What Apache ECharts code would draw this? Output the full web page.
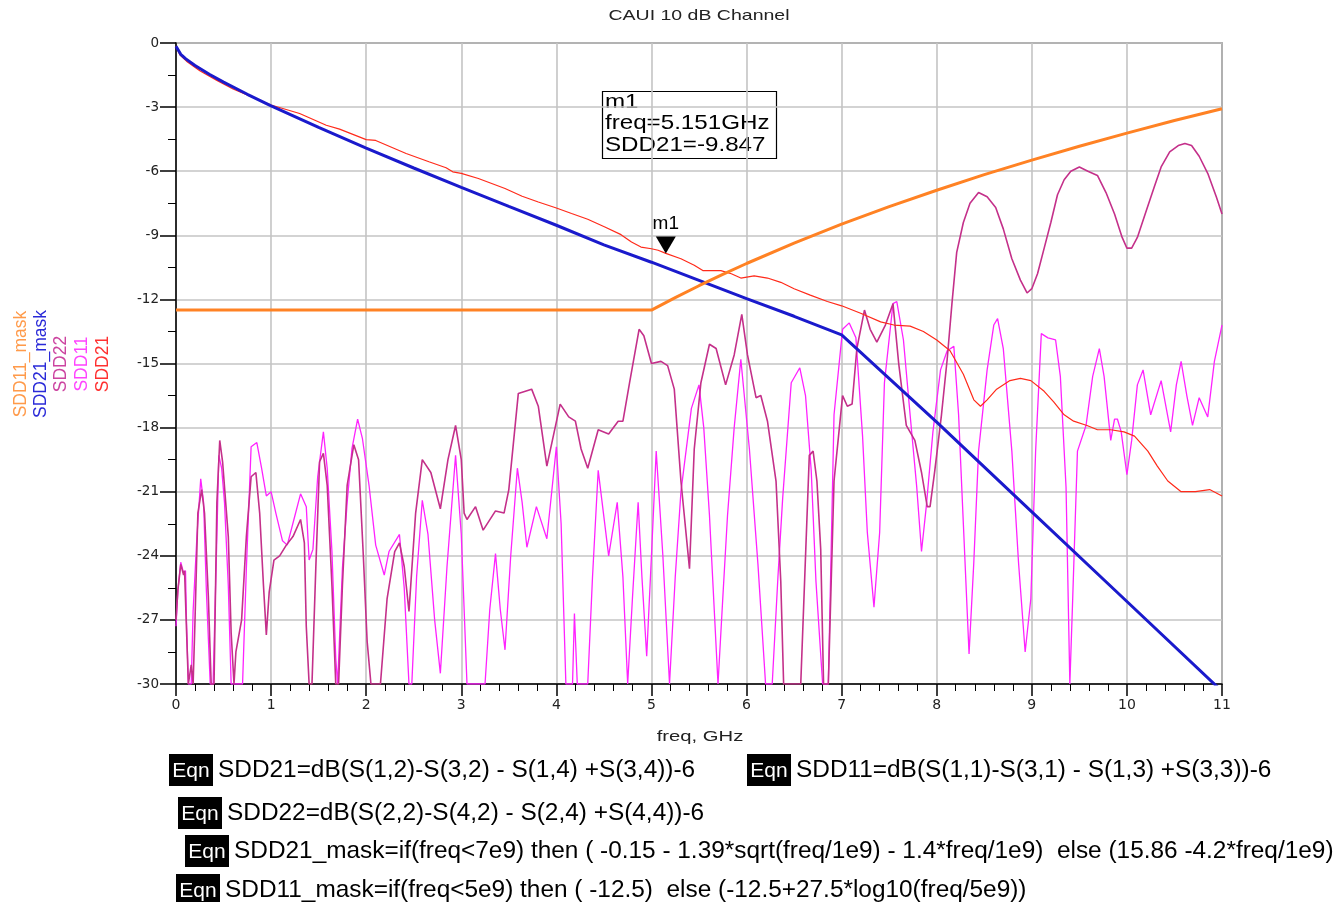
<!DOCTYPE html>
<html>
<head>
<meta charset="utf-8">
<title>CAUI 10 dB Channel</title>
<script src="https://cdn.jsdelivr.net/npm/echarts@6/dist/echarts.min.js"></script>
<style>
  html, body { margin: 0; padding: 0; background: #fff; }
  #chart { width: 1337px; height: 902px; }
</style>
</head>
<body>
<div id="chart"></div>
<script>
// Frequency axis (GHz) and magnitude axis (dB)
const xTicks = { min: 0, max: 11, step: 1 };
const yTicks = { min: -30, max: 0, step: 3 };

// SDD21 insertion loss [freq GHz, dB]
const sdd21 = [
  [0, -0.15], [0.04, -0.55], [0.11, -0.85], [0.25, -1.3], [0.43, -1.75], [0.6, -2.15],
  [0.81, -2.55], [1.0, -2.9], [1.3, -3.3], [1.58, -3.85], [1.72, -4.03], [2.0, -4.52],
  [2.1, -4.56], [2.42, -5.17], [2.66, -5.56], [2.84, -5.84], [2.91, -6.03], [3.0, -6.1],
  [3.18, -6.34], [3.46, -6.81], [3.64, -7.17], [3.81, -7.44], [4.0, -7.72], [4.16, -7.98],
  [4.33, -8.25], [4.51, -8.61], [4.68, -8.97], [4.79, -9.31], [4.89, -9.55], [5.0, -9.63],
  [5.07, -9.7], [5.151, -9.847], [5.31, -10.1], [5.45, -10.4], [5.54, -10.65], [5.73, -10.65],
  [5.84, -10.8], [5.94, -11.0], [6.08, -10.9], [6.22, -11.0], [6.36, -11.2], [6.5, -11.5],
  [6.67, -11.8], [6.85, -12.1], [7.0, -12.3], [7.2, -12.65], [7.41, -13.05], [7.55, -13.2],
  [7.72, -13.25], [7.86, -13.5], [8.0, -13.9], [8.14, -14.4], [8.28, -15.5], [8.39, -16.7],
  [8.46, -17.0], [8.53, -16.7], [8.63, -16.2], [8.77, -15.8], [8.88, -15.7], [8.99, -15.8],
  [9.13, -16.3], [9.23, -16.8], [9.34, -17.4], [9.44, -17.7], [9.58, -17.9], [9.69, -18.1],
  [9.83, -18.1], [9.97, -18.2], [10.08, -18.4], [10.22, -19.1], [10.32, -19.8], [10.43, -20.5],
  [10.57, -21.0], [10.72, -21.0], [10.87, -20.9], [11.0, -21.2]
];

// SDD11 return loss [freq GHz, dB]
const sdd11 = [
  [0, -27.3], [0.02, -25.6], [0.05, -24.3], [0.08, -24.8], [0.10, -24.7], [0.11, -27.0],
  [0.13, -30], [0.16, -30], [0.18, -26.6], [0.22, -23.1], [0.26, -20.4], [0.29, -21.5],
  [0.32, -25.7], [0.36, -30], [0.39, -30], [0.43, -23.1], [0.45, -19.3], [0.48, -19.9],
  [0.51, -21.5], [0.55, -25.4], [0.58, -30], [0.70, -30], [0.74, -24.6], [0.79, -18.9],
  [0.85, -18.7], [0.90, -19.9], [0.95, -21.2], [1.00, -21.0], [1.05, -22.0], [1.12, -23.3],
  [1.17, -23.5], [1.24, -22.3], [1.31, -21.1], [1.37, -21.7], [1.40, -24.2], [1.44, -23.7],
  [1.49, -20.3], [1.55, -18.2], [1.59, -19.9], [1.64, -23.8], [1.68, -28.8], [1.70, -30],
  [1.72, -30], [1.75, -24.6], [1.80, -21.5], [1.85, -19.0], [1.91, -17.6], [1.96, -18.5],
  [2.03, -20.7], [2.10, -23.5], [2.19, -24.9], [2.24, -23.8], [2.35, -23.0], [2.40, -25.5],
  [2.45, -30], [2.48, -30], [2.53, -25.0], [2.59, -21.4], [2.65, -23.0], [2.72, -27.0],
  [2.78, -29.5], [2.85, -24.5], [2.94, -19.3], [3.00, -23.0], [3.06, -30], [3.25, -30],
  [3.30, -26.5], [3.36, -23.9], [3.41, -26.5], [3.46, -28.4], [3.52, -24.0], [3.59, -19.9],
  [3.64, -21.5], [3.69, -23.6], [3.79, -21.7], [3.90, -23.2], [4.00, -18.9], [4.05, -22.5],
  [4.10, -30], [4.17, -30], [4.19, -26.7], [4.22, -30], [4.33, -30], [4.38, -25.0],
  [4.44, -20.0], [4.55, -24.0], [4.64, -21.5], [4.70, -25.0], [4.75, -30], [4.80, -26.0],
  [4.86, -21.5], [4.90, -25.0], [4.95, -28.7], [5.00, -24.0], [5.05, -19.1], [5.12, -24.0],
  [5.19, -30], [5.25, -25.0], [5.31, -21.0], [5.42, -17.1], [5.50, -16.0], [5.55, -18.0],
  [5.61, -22.1], [5.70, -30], [5.75, -26.0], [5.80, -22.1], [5.87, -18.0], [5.94, -14.8],
  [6.03, -19.0], [6.12, -24.4], [6.20, -30], [6.27, -30], [6.33, -25.0], [6.38, -21.3],
  [6.47, -15.9], [6.56, -15.2], [6.62, -16.5], [6.68, -20.0], [6.73, -25.2], [6.80, -30],
  [6.86, -30], [6.92, -17.4], [7.01, -13.4], [7.08, -13.1], [7.15, -13.8], [7.22, -18.4],
  [7.27, -22.9], [7.34, -26.4], [7.40, -22.9], [7.45, -15.9], [7.54, -12.2], [7.58, -12.1],
  [7.65, -13.9], [7.72, -17.4], [7.79, -20.8], [7.84, -23.8], [7.89, -21.7], [7.96, -18.2],
  [8.04, -15.3], [8.11, -14.4], [8.18, -14.2], [8.23, -17.4], [8.28, -22.5], [8.34, -28.6],
  [8.39, -24.3], [8.44, -19.1], [8.53, -15.3], [8.60, -13.2], [8.64, -12.9], [8.70, -14.3],
  [8.79, -19.1], [8.86, -24.3], [8.93, -28.5], [8.99, -26.0], [9.04, -19.1], [9.10, -13.6],
  [9.17, -13.8], [9.25, -13.9], [9.30, -15.6], [9.36, -20.8], [9.40, -30], [9.43, -26.0],
  [9.48, -19.1], [9.57, -17.9], [9.64, -15.6], [9.71, -14.3], [9.76, -15.6], [9.83, -18.6],
  [9.87, -17.6], [9.90, -17.6], [9.94, -18.2], [10.00, -20.2], [10.05, -18.6], [10.11, -16.0],
  [10.17, -15.3], [10.25, -17.4], [10.36, -15.8], [10.46, -18.2], [10.52, -16.0], [10.57, -14.9],
  [10.63, -16.5], [10.69, -17.9], [10.76, -16.6], [10.85, -17.5], [10.92, -14.9], [11.0, -13.2]
];

// SDD22 return loss [freq GHz, dB]
const sdd22 = [
  [0, -27.0], [0.02, -25.6], [0.05, -24.4], [0.08, -24.9], [0.09, -24.7], [0.11, -27.4],
  [0.13, -30], [0.15, -30], [0.16, -29.1], [0.18, -30], [0.20, -27.0], [0.23, -22.0],
  [0.27, -20.9], [0.30, -22.0], [0.34, -25.9], [0.37, -30], [0.40, -30], [0.43, -21.5],
  [0.46, -18.6], [0.49, -19.6], [0.55, -23.1], [0.58, -27.6], [0.61, -30], [0.63, -28.5],
  [0.69, -27.0], [0.74, -23.1], [0.79, -20.3], [0.84, -20.1], [0.88, -22.0], [0.92, -25.4],
  [0.95, -27.7], [0.98, -25.7], [1.03, -24.2], [1.09, -24.0], [1.16, -23.5], [1.23, -23.1],
  [1.31, -22.3], [1.35, -23.4], [1.37, -27.3], [1.40, -30], [1.43, -30], [1.47, -24.6],
  [1.51, -19.6], [1.55, -19.2], [1.59, -20.7], [1.64, -25.4], [1.68, -30], [1.71, -30],
  [1.75, -25.4], [1.80, -20.7], [1.87, -18.8], [1.92, -19.5], [1.97, -24.0], [2.01, -28.0],
  [2.05, -30], [2.15, -30], [2.22, -26.0], [2.30, -23.8], [2.35, -23.4], [2.40, -24.5],
  [2.45, -26.6], [2.52, -22.0], [2.59, -19.5], [2.68, -20.1], [2.78, -21.8], [2.86, -19.5],
  [2.94, -17.9], [3.00, -19.5], [3.03, -22.0], [3.06, -22.3], [3.15, -21.7], [3.23, -22.8],
  [3.36, -21.9], [3.45, -22.0], [3.50, -20.9], [3.60, -16.4], [3.74, -16.2], [3.81, -17.0],
  [3.90, -19.8], [4.04, -16.9], [4.13, -17.5], [4.20, -17.7], [4.26, -19.0], [4.33, -19.9],
  [4.44, -18.1], [4.55, -18.3], [4.65, -17.7], [4.70, -17.7], [4.77, -15.9], [4.87, -13.4],
  [4.92, -13.7], [5.00, -15.0], [5.10, -14.9], [5.17, -15.1], [5.24, -16.2], [5.31, -20.5],
  [5.40, -24.6], [5.45, -19.0], [5.52, -15.9], [5.61, -14.1], [5.68, -14.3], [5.78, -16.0],
  [5.87, -14.6], [5.95, -12.7], [6.01, -14.6], [6.10, -16.6], [6.15, -16.5], [6.22, -17.7],
  [6.31, -20.5], [6.36, -25.2], [6.39, -30], [6.57, -30], [6.66, -19.3], [6.70, -19.1],
  [6.74, -20.5], [6.78, -23.7], [6.81, -30], [6.86, -30], [6.92, -20.5], [7.01, -16.5],
  [7.06, -17.0], [7.11, -16.9], [7.16, -14.3], [7.24, -12.5], [7.30, -13.4], [7.37, -14.0],
  [7.46, -13.2], [7.54, -12.2], [7.60, -15.0], [7.68, -17.9], [7.77, -18.6], [7.84, -20.1],
  [7.90, -21.7], [7.93, -21.7], [7.98, -20.0], [8.05, -17.4], [8.11, -14.8], [8.16, -12.2],
  [8.21, -9.8], [8.28, -8.4], [8.35, -7.5], [8.44, -7.0], [8.53, -7.2], [8.62, -7.7],
  [8.70, -8.7], [8.79, -10.1], [8.88, -11.1], [8.95, -11.7], [9.00, -11.5], [9.06, -10.8],
  [9.13, -9.6], [9.20, -8.4], [9.27, -7.1], [9.34, -6.4], [9.41, -6.0], [9.50, -5.8],
  [9.59, -6.0], [9.69, -6.2], [9.78, -7.0], [9.87, -8.0], [9.95, -9.1], [10.00, -9.6],
  [10.05, -9.6], [10.11, -9.1], [10.20, -7.9], [10.29, -6.7], [10.36, -5.8], [10.45, -5.1],
  [10.54, -4.8], [10.61, -4.7], [10.68, -4.8], [10.76, -5.3], [10.85, -6.1], [10.94, -7.2],
  [11.0, -8.0]
];

// SDD21 limit line [freq GHz, dB]
const sdd21Mask = [
  [0, -0.15], [0.05, -0.53], [0.1, -0.73], [0.2, -1.05], [0.35, -1.46], [0.5, -1.83],
  [0.75, -2.40], [1, -2.94], [1.5, -3.95], [2, -4.92], [2.5, -5.85], [3, -6.76],
  [3.5, -7.65], [4, -8.53], [4.5, -9.45], [5, -10.26], [5.5, -11.11], [6, -11.96],
  [6.5, -12.79], [7, -13.66], [8, -17.74], [9, -21.94], [10, -26.14], [11, -30.34]
];

// SDD11 limit line [freq GHz, dB]
const sdd11Mask = [
  [0, -12.5], [5, -12.5], [5.25, -11.92], [5.5, -11.36], [5.75, -10.83], [6, -10.32],
  [6.5, -9.37], [7, -8.48], [7.5, -7.66], [8, -6.89], [8.5, -6.16], [9, -5.48],
  [9.5, -4.83], [10, -4.22], [10.5, -3.63], [11, -3.08]
];

// Marker m1 on SDD21
const markerFreq = 5.151;
const markerValue = -9.847;

// Trace names (vertical legend on the left) and equation lines below the plot
const traceNames = ['SDD11_mask', 'SDD21_mask', 'SDD22', 'SDD11', 'SDD21'];
const equations = [
  'SDD21=dB(S(1,2)-S(3,2) - S(1,4) +S(3,4))-6',
  'SDD11=dB(S(1,1)-S(3,1) - S(1,3) +S(3,3))-6',
  'SDD22=dB(S(2,2)-S(4,2) - S(2,4) +S(4,4))-6',
  'SDD21_mask=if(freq<7e9) then ( -0.15 - 1.39*sqrt(freq/1e9) - 1.4*freq/1e9)  else (15.86 -4.2*freq/1e9)',
  'SDD11_mask=if(freq<5e9) then ( -12.5)  else (-12.5+27.5*log10(freq/5e9))'
];

const FONT = '"Liberation Sans", Arial, sans-serif';
const TICK_FONT = '"DejaVu Sans", Verdana, sans-serif';
const colors = {
  SDD11_mask: '#FF8224',
  SDD21_mask: '#1A1ACC',
  SDD22: '#C4308A',
  SDD11: '#FF22FF',
  SDD21: '#FF2A1A'
};
const legendColors = {
  SDD11_mask: '#FF9A4A',
  SDD21_mask: '#2A2AD8',
  SDD22: '#CC44A0',
  SDD11: '#FF44FF',
  SDD21: '#FF3030'
};

const chart = echarts.init(document.getElementById('chart'), null, { renderer: 'canvas' });

// Rotated trace names on the left
const legendX = [21, 41, 61, 82, 103];
const legendGraphics = traceNames.map((name, i) => ({
  type: 'text',
  x: legendX[i],
  y: 364,
  rotation: Math.PI / 2,
  style: {
    text: name,
    font: '17.5px ' + FONT,
    fill: legendColors[name],
    align: 'center',
    verticalAlign: 'middle'
  }
}));

// Equation blocks: black "Eqn" tag followed by the expression
const eqnPos = [
  [169, 770], [747, 770], [178, 813], [185, 851], [176, 890]
];
const eqnGraphics = [];
equations.forEach((txt, i) => {
  const [x, y] = eqnPos[i];
  eqnGraphics.push({
    type: 'rect',
    shape: { x: x, y: y - 16, width: 44, height: 32 },
    style: { fill: '#000' }
  });
  eqnGraphics.push({
    type: 'text',
    x: x + 22, y: y + 1,
    style: { text: 'Eqn', font: '21px ' + FONT, fill: '#fff', align: 'center', verticalAlign: 'middle' }
  });
  eqnGraphics.push({
    type: 'text',
    x: x + 49, y: y,
    style: { text: txt, font: '24.4px ' + FONT, fill: '#000', align: 'left', verticalAlign: 'middle' }
  });
});

// Marker readout box
const markerBox = [
  {
    type: 'rect',
    shape: { x: 602.5, y: 91.5, width: 174, height: 67 },
    style: { fill: '#fff', stroke: '#000', lineWidth: 1.2 }
  },
  {
    type: 'text',
    x: 605, y: 91,
    scaleX: 1.15,
    style: {
      text: 'm1\nfreq=' + markerFreq.toFixed(3) + 'GHz\nSDD21=' + markerValue.toFixed(3),
      font: '21px ' + FONT,
      lineHeight: 21.5,
      fill: '#000',
      align: 'left',
      verticalAlign: 'top'
    }
  }
];

// Title and x-axis caption
const captions = [
  {
    type: 'text',
    x: 699, y: 16,
    scaleX: 1.3,
    style: { text: 'CAUI 10 dB Channel', font: '15px ' + FONT, fill: '#222', align: 'center', verticalAlign: 'middle' }
  },
  {
    type: 'text',
    x: 700, y: 737,
    scaleX: 1.35,
    style: { text: 'freq, GHz', font: '15px ' + FONT, fill: '#222', align: 'center', verticalAlign: 'middle' }
  }
];

function lineSeries(name, data, width, z) {
  return {
    name: name,
    type: 'line',
    data: data,
    showSymbol: false,
    symbol: 'none',
    animation: false,
    clip: true,
    z: z,
    lineStyle: { color: colors[name], width: width }
  };
}

const sdd21Series = lineSeries('SDD21', sdd21, 1.2, 4);
sdd21Series.markPoint = {
  symbol: 'path://M0,0 L20,0 L10,17 Z',
  symbolSize: [20, 17],
  symbolOffset: [0, -8.5],
  itemStyle: { color: '#000' },
  label: {
    show: true,
    position: 'top',
    distance: 3,
    formatter: 'm1',
    color: '#000',
    fontSize: 19,
    fontFamily: FONT
  },
  data: [{ coord: [markerFreq, markerValue] }]
};

const option = {
  animation: false,
  backgroundColor: '#fff',
  grid: {
    left: 176, right: 115, top: 43, bottom: 218,
    show: true, borderColor: '#000', borderWidth: 1.2
  },
  xAxis: {
    type: 'value',
    min: xTicks.min, max: xTicks.max, interval: xTicks.step,
    axisLine: { show: true, onZero: false, lineStyle: { color: '#000', width: 1.5 } },
    axisTick: { show: true, inside: false, length: 12, lineStyle: { color: '#000', width: 1.5 } },
    minorTick: { show: true, splitNumber: 5, length: 7, lineStyle: { color: '#000', width: 1 } },
    axisLabel: { fontSize: 14, color: '#222', fontFamily: TICK_FONT, margin: 14 },
    splitLine: { show: true, lineStyle: { color: '#C4C4C4', width: 1.6 } }
  },
  yAxis: {
    type: 'value',
    min: yTicks.min, max: yTicks.max, interval: yTicks.step,
    axisLine: { show: true, onZero: false, lineStyle: { color: '#000', width: 1.5 } },
    axisTick: { show: true, inside: false, length: 16, lineStyle: { color: '#000', width: 1.5 } },
    minorTick: { show: true, splitNumber: 2, length: 8, lineStyle: { color: '#000', width: 1 } },
    axisLabel: { fontSize: 13.5, color: '#222', fontFamily: TICK_FONT, margin: 17 },
    splitLine: { show: true, lineStyle: { color: '#C4C4C4', width: 1.6 } }
  },
  series: [
    lineSeries('SDD11', sdd11, 1.3, 2),
    lineSeries('SDD22', sdd22, 1.6, 3),
    sdd21Series,
    lineSeries('SDD21_mask', sdd21Mask, 3, 5),
    lineSeries('SDD11_mask', sdd11Mask, 3, 6)
  ],
  graphic: captions.concat(legendGraphics, eqnGraphics, markerBox)
};

chart.setOption(option);
</script>
</body>
</html>
